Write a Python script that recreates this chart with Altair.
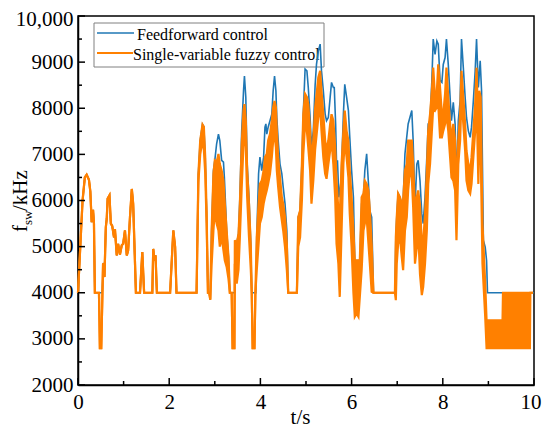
import altair as alt
import pandas as pd

SERIES = ["Feedforward control", "Single-variable fuzzy control"]
COLORS = ["#1f77b4", "#ff8000"]

BLUE_T = [0.00, 0.05, 0.10, 0.15, 0.19, 0.24, 0.27, 0.30, 0.33, 0.35, 0.37, 0.53, 0.56, 0.58, 0.61,
          0.63, 0.65, 0.69, 0.72, 0.75, 0.79, 0.81, 0.85, 0.88, 0.92, 0.96, 0.99, 1.03, 1.07, 1.10,
          1.14, 1.18, 1.21, 1.27, 1.36, 1.41, 1.45, 1.63, 1.65, 1.68, 1.70, 1.73, 2.02, 2.09, 2.13,
          2.16, 2.60, 2.64, 2.68, 2.73, 2.76, 2.79, 2.82, 2.85, 2.88, 2.90, 2.93, 2.97, 3.00, 3.04,
          3.08, 3.11, 3.15, 3.19, 3.21, 3.26, 3.30, 3.33, 3.44, 3.48, 3.52, 3.55, 3.59, 3.63, 3.65,
          3.68, 3.71, 3.75, 3.79, 3.81, 3.90, 3.92, 3.96, 3.99, 4.03, 4.07, 4.10, 4.12, 4.14, 4.17,
          4.21, 4.25, 4.28, 4.31, 4.34, 4.36, 4.39, 4.43, 4.47, 4.50, 4.54, 4.58, 4.61, 4.80, 4.83,
          4.87, 4.91, 4.94, 4.98, 5.02, 5.05, 5.09, 5.12, 5.16, 5.20, 5.23, 5.27, 5.31, 5.34, 5.38,
          5.42, 5.45, 5.49, 5.53, 5.56, 5.60, 5.62, 5.65, 5.67, 5.69, 5.72, 5.77, 5.82, 5.85, 5.89,
          5.93, 5.96, 6.00, 6.04, 6.07, 6.18, 6.22, 6.26, 6.29, 6.33, 6.37, 6.40, 6.44, 6.48, 6.95,
          6.97, 6.99, 7.02, 7.06, 7.10, 7.13, 7.17, 7.24, 7.32, 7.35, 7.39, 7.43, 7.46, 7.50, 7.54,
          7.57, 7.61, 7.65, 7.68, 7.72, 7.76, 7.79, 7.83, 7.87, 7.90, 7.94, 7.98, 8.01, 8.05, 8.08,
          8.12, 8.16, 8.19, 8.23, 8.27, 8.30, 8.34, 8.38, 8.41, 8.45, 8.49, 8.52, 8.56, 8.60, 8.63,
          8.67, 8.71, 8.74, 8.78, 8.82, 8.85, 8.89, 8.93, 8.96, 8.98, 10.00]
BLUE_V = [4000, 5000, 6000, 6500, 6560, 6450, 6200, 5530, 5800, 5500, 4000, 4000, 4650, 4340, 5420,
          5600, 6040, 6110, 5500, 5450, 5200, 5380, 4810, 5060, 4830, 5030, 5060, 5350, 4810, 4920,
          5640, 6250, 5930, 4000, 4000, 4880, 4000, 4000, 4950, 4700, 4810, 4000, 4000, 5350, 4990,
          4000, 4000, 6580, 7300, 7650, 7600, 6940, 5750, 4000, 4000, 3850, 5350, 6650, 6870, 7230,
          7440, 7300, 6870, 6830, 6500, 5350, 4780, 4000, 4000, 5060, 5280, 6070, 7510, 8380, 8700,
          8240, 6790, 6070, 5060, 4000, 4000, 5210, 6580, 6940, 6650, 6940, 7590, 7660, 7440, 7590,
          7730, 7870, 8380, 8700, 8380, 7800, 7300, 6790, 6580, 6290, 5930, 5350, 4000, 4000, 5640,
          5780, 6790, 7870, 8850, 8810, 8450, 7800, 7150, 7510, 8500, 8950, 9240, 9390, 8810, 8380,
          7870, 7730, 7800, 8240, 8560, 8450, 8450, 7660, 6790, 6870, 6070, 6430, 7870, 8520, 8240,
          7950, 7370, 6650, 6070, 4700, 4700, 5930, 6070, 6650, 7010, 6360, 5780, 5640, 4000, 4000,
          5210, 5640, 6150, 6070, 5930, 6000, 7010, 7660, 7950, 7300, 5860, 6790, 6870, 6430, 5710,
          5500, 6070, 6940, 7660, 7730, 8600, 9500, 9170, 9460, 9390, 8600, 8560, 8950, 9100, 9500,
          8950, 8240, 7730, 8130, 7660, 6290, 7730, 8160, 9500, 8880, 8240, 7800, 7510, 7370, 7590,
          8160, 8810, 9500, 8450, 9030, 8380, 5140, 4990, 4700, 4000, 4000]

ORANGE_T = [0.00, 0.05, 0.10, 0.15, 0.19, 0.24, 0.27, 0.30, 0.33, 0.35, 0.37, 0.46, 0.48, 0.51, 0.55,
            0.58, 0.61, 0.63, 0.65, 0.69, 0.72, 0.75, 0.79, 0.81, 0.85, 0.88, 0.92, 0.96, 0.99, 1.03,
            1.07, 1.10, 1.14, 1.18, 1.21, 1.27, 1.36, 1.41, 1.45, 1.63, 1.65, 1.68, 1.70, 1.73, 2.02,
            2.09, 2.13, 2.16, 2.60, 2.64, 2.68, 2.73, 2.76, 2.79, 2.82, 2.85, 2.88, 2.90, 2.93, 2.97,
            3.00, 3.04, 3.08, 3.11, 3.15, 3.19, 3.22, 3.26, 3.30, 3.33, 3.37, 3.39, 3.43, 3.44, 3.48,
            3.52, 3.55, 3.59, 3.63, 3.65, 3.68, 3.71, 3.75, 3.79, 3.81, 3.83, 3.87, 3.89, 3.92, 3.96,
            3.99, 4.03, 4.07, 4.10, 4.14, 4.17, 4.21, 4.25, 4.28, 4.31, 4.34, 4.36, 4.39, 4.43, 4.47,
            4.50, 4.54, 4.58, 4.61, 4.80, 4.83, 4.87, 4.91, 4.94, 4.98, 5.02, 5.05, 5.09, 5.12, 5.16,
            5.20, 5.27, 5.31, 5.34, 5.38, 5.42, 5.45, 5.49, 5.53, 5.56, 5.60, 5.64, 5.67, 5.71, 5.74,
            5.78, 5.82, 5.85, 5.89, 5.93, 5.96, 6.00, 6.04, 6.07, 6.11, 6.15, 6.18, 6.22, 6.26, 6.29,
            6.33, 6.37, 6.40, 6.44, 6.48, 6.95, 6.97, 6.99, 7.02, 7.06, 7.10, 7.13, 7.17, 7.21, 7.24,
            7.28, 7.32, 7.35, 7.39, 7.43, 7.46, 7.50, 7.54, 7.57, 7.61, 7.65, 7.68, 7.72, 7.76, 7.79,
            7.83, 7.87, 7.90, 7.94, 7.98, 8.01, 8.05, 8.08, 8.12, 8.16, 8.19, 8.23, 8.27, 8.30, 8.34,
            8.38, 8.41, 8.45, 8.49, 8.52, 8.56, 8.60, 8.63, 8.67, 8.71, 8.74, 8.78, 8.80, 8.83, 8.87,
            8.93, 8.96, 9.31, 9.32, 9.91, 9.92, 9.98]
ORANGE_HI = [4000, 5000, 6000, 6500, 6560, 6450, 6200, 5530, 5800, 5500, 4000, 4000, 2800, 2800, 4640,
             4340, 5420, 5600, 6040, 6110, 5500, 5450, 5200, 5380, 4810, 5060, 4830, 5030, 5060, 5350,
             4810, 4920, 5640, 6250, 5930, 4000, 4000, 4880, 4000, 4000, 4950, 4700, 4810, 4000, 4000,
             5350, 4990, 4000, 4000, 6580, 7300, 7650, 7600, 6940, 5750, 4000, 4000, 3850, 5350, 6580,
             6870, 6830, 7010, 6790, 6650, 6430, 5930, 5350, 4780, 4000, 4000, 2800, 2800, 5140, 5060,
             5280, 5930, 7230, 7950, 8090, 7730, 6650, 5930, 5000, 4000, 2800, 2800, 4000, 5210, 5930,
             6360, 6430, 6650, 6940, 7010, 7300, 7440, 7730, 8020, 8160, 8020, 7510, 6940, 6500, 6070,
             5930, 5640, 5060, 4000, 4000, 5640, 5780, 6790, 7870, 8310, 8240, 8090, 7510, 6790, 7300,
             8000, 8670, 8810, 8380, 7870, 7300, 7080, 7300, 7660, 7870, 7730, 7150, 6430, 5780, 5640,
             6790, 7510, 7950, 7510, 7300, 6650, 6070, 5350, 4700, 4700, 4700, 4700, 6070, 6150, 6430,
             6360, 6220, 5780, 5060, 4000, 4000, 5210, 5640, 6150, 6070, 5930, 6000, 6650, 6790, 7300,
             7300, 7300, 6790, 5860, 6070, 6220, 5900, 5060, 5100, 5700, 6650, 7510, 7870, 8380, 8880,
             8240, 8380, 8950, 8450, 7870, 7870, 8310, 8880, 8240, 7660, 7300, 7660, 7300, 6070, 7300,
             7870, 8810, 8240, 7660, 7080, 6790, 6650, 6940, 7510, 8090, 8880, 7510, 8380, 8240, 5500,
             4200, 3400, 3400, 4000, 4000, 4000, 4000]
ORANGE_LO = [4000, 5000, 6000, 6500, 6560, 6450, 6200, 5530, 5800, 5500, 4000, 4000, 2800, 2800, 4640,
             4340, 5420, 5600, 6040, 6110, 5500, 5450, 5200, 5380, 4810, 5060, 4830, 5030, 5060, 5350,
             4810, 4920, 5640, 6250, 5930, 4000, 4000, 4880, 4000, 4000, 4950, 4700, 4810, 4000, 4000,
             5350, 4990, 4000, 4000, 6400, 7000, 7300, 7100, 6600, 5500, 4000, 4000, 3850, 4600, 5350,
             5780, 5500, 5350, 5000, 5210, 4920, 4700, 4560, 4300, 4000, 4000, 2800, 2800, 4630, 4200,
             4500, 5210, 6290, 7230, 7660, 7150, 6070, 5210, 4490, 4000, 2800, 2800, 4000, 4490, 5060,
             5500, 5640, 5930, 6070, 6220, 6360, 6580, 6940, 7300, 7440, 7150, 6650, 6290, 5860, 5570,
             5350, 4990, 4490, 4000, 4000, 5000, 5200, 6000, 7000, 7660, 7500, 7150, 6650, 5930, 6430,
             7100, 7800, 8020, 7510, 6940, 6580, 6470, 6790, 7080, 7300, 6790, 6070, 5060, 4630, 3910,
             5350, 6790, 7300, 6940, 6500, 5710, 5000, 4000, 3480, 3550, 3480, 3910, 4490, 5350, 5500,
             5640, 5060, 4630, 4020, 4000, 4000, 3840, 4630, 5060, 5210, 4770, 4490, 5350, 5640, 6220,
             6650, 6500, 5860, 4630, 4990, 5350, 4400, 3950, 4130, 4630, 5350, 6360, 6790, 7510, 8020,
             7950, 8020, 8090, 7370, 7370, 7510, 7660, 7870, 7510, 6940, 6500, 6430, 6220, 5140, 6790,
             7300, 8240, 7660, 7080, 6430, 6220, 6150, 6360, 6940, 7510, 8240, 6360, 7510, 7150, 4630,
             3480, 2800, 2800, 2800, 2800, 4000, 4000]

X_TICKS_MAJOR = [0, 2, 4, 6, 8, 10]
X_TICKS_MINOR = [1, 3, 5, 7, 9]
Y_TICKS_MAJOR = [2000, 3000, 4000, 5000, 6000, 7000, 8000, 9000, 10000]
Y_TICKS_MINOR = [2500, 3500, 4500, 5500, 6500, 7500, 8500, 9500]

W, H = 456, 369
TOP = 8
SH = TOP - 7  # vertical shift of overlay items relative to the reference frame
FONT = "Liberation Serif"

xs = alt.Scale(domain=[0, 10], nice=False, zero=False)
ys = alt.Scale(domain=[2000, 10000], nice=False, zero=False)

blue_df = pd.DataFrame({"t": BLUE_T, "v": BLUE_V})
orange_df = pd.DataFrame({"t": ORANGE_T, "hi": ORANGE_HI, "lo": ORANGE_LO})
one = alt.Data(values=[{"k": 0}])

x_axis = alt.Axis(values=X_TICKS_MAJOR, ticks=False, grid=False, labelPadding=6,
                  labelFont=FONT, labelFontSize=21, labelColor="black", labelFlush=False,
                  labelAlign={"condition": {"test": "datum.value == 10", "value": "right"},
                              "value": "center"},
                  labelOffset={"condition": {"test": "datum.value == 10", "value": 7},
                               "value": 0},
                  domainColor="black", domainWidth=1.5,
                  title="t/s", titleFont=FONT, titleFontSize=21, titleFontWeight="normal",
                  titleColor="black", titleX=222, titleY=38, titleBaseline="alphabetic",
                  titleAlign="center")
y_axis = alt.Axis(values=Y_TICKS_MAJOR, ticks=False, grid=False, labelPadding=5,
                  labelFont=FONT, labelFontSize=21, labelColor="black", labelFlush=False,
                  labelOffset={"condition": {"test": "datum.value == 10000", "value": 3},
                               "value": 0},
                  domainColor="black", domainWidth=1.5,
                  title="", labelExpr="datum.value == 10000 ? '10,000' : '' + datum.value")

# legend (plot-area pixel coordinates)
legend_box = alt.Chart(one).mark_rect(fill="white", stroke="#808080", strokeWidth=1).encode(
    x=alt.value(16), x2=alt.value(246), y=alt.value(8 - SH), y2=alt.value(52 - SH))
leg_line1 = alt.Chart(one).mark_rule(color=COLORS[0], strokeWidth=1.6).encode(
    x=alt.value(19), x2=alt.value(56), y=alt.value(18 - SH))
leg_line2 = alt.Chart(one).mark_rule(color=COLORS[1], strokeWidth=2).encode(
    x=alt.value(19), x2=alt.value(55), y=alt.value(38 - SH))
leg_text1 = alt.Chart(one).mark_text(font=FONT, fontSize=16, align="left", baseline="middle",
                                     color="black").encode(
    x=alt.value(59), y=alt.value(20 - SH), text=alt.value(SERIES[0]))
leg_text2 = alt.Chart(one).mark_text(font=FONT, fontSize=16, align="left", baseline="middle",
                                     color="black").encode(
    x=alt.value(55), y=alt.value(40 - SH), text=alt.value(SERIES[1]))

blue = alt.Chart(blue_df).mark_line(color=COLORS[0], strokeWidth=1.6).encode(
    x=alt.X("t:Q", scale=xs, axis=x_axis), y=alt.Y("v:Q", scale=ys, axis=y_axis))
o_area = alt.Chart(orange_df).mark_area(color=COLORS[1], opacity=1).encode(
    x=alt.X("t:Q", scale=xs, axis=x_axis), y=alt.Y("lo:Q", scale=ys, axis=y_axis, stack=None),
    y2="hi:Q")
o_hi = alt.Chart(orange_df).mark_line(color=COLORS[1], strokeWidth=2.2).encode(
    x=alt.X("t:Q", scale=xs, axis=x_axis), y=alt.Y("hi:Q", scale=ys, axis=y_axis))
o_lo = alt.Chart(orange_df).mark_line(color=COLORS[1], strokeWidth=2.2).encode(
    x=alt.X("t:Q", scale=xs, axis=x_axis), y=alt.Y("lo:Q", scale=ys, axis=y_axis))


def xticks(vals, length):
    return alt.Chart(pd.DataFrame({"t": vals})).mark_rule(color="black", strokeWidth=1.5).encode(
        x=alt.X("t:Q", scale=xs, axis=x_axis), y=alt.value(H), y2=alt.value(H - length))


def yticks(vals, length):
    return alt.Chart(pd.DataFrame({"v": vals})).mark_rule(color="black", strokeWidth=1.5).encode(
        y=alt.Y("v:Q", scale=ys, axis=y_axis), x=alt.value(0), x2=alt.value(length))


def ytitle(txt, x, y, size):
    return alt.Chart(one).mark_text(font=FONT, fontSize=size, align="left", baseline="alphabetic",
                                    angle=270, color="black").encode(
        x=alt.value(x), y=alt.value(y - SH), text=alt.value(txt))


chart = alt.layer(
    legend_box, leg_line1, leg_line2, leg_text1, leg_text2,
    blue, o_area, o_hi, o_lo,
    xticks(X_TICKS_MAJOR, 7), xticks(X_TICKS_MINOR, 4),
    yticks(Y_TICKS_MAJOR, 7), yticks(Y_TICKS_MINOR, 4),
    ytitle("f", -51, 217, 21), ytitle("sw", -46, 210, 13), ytitle("/kHz", -51, 196, 21),
).properties(
    width=W, height=H,
    padding={"left": 70, "top": TOP, "right": 8, "bottom": 42},
    autosize=alt.AutoSizeParams(type="none"),
).configure_view(
    stroke="black", strokeWidth=1.5
)

chart.save("out.html", embed_options={"renderer": "svg", "actions": False})
